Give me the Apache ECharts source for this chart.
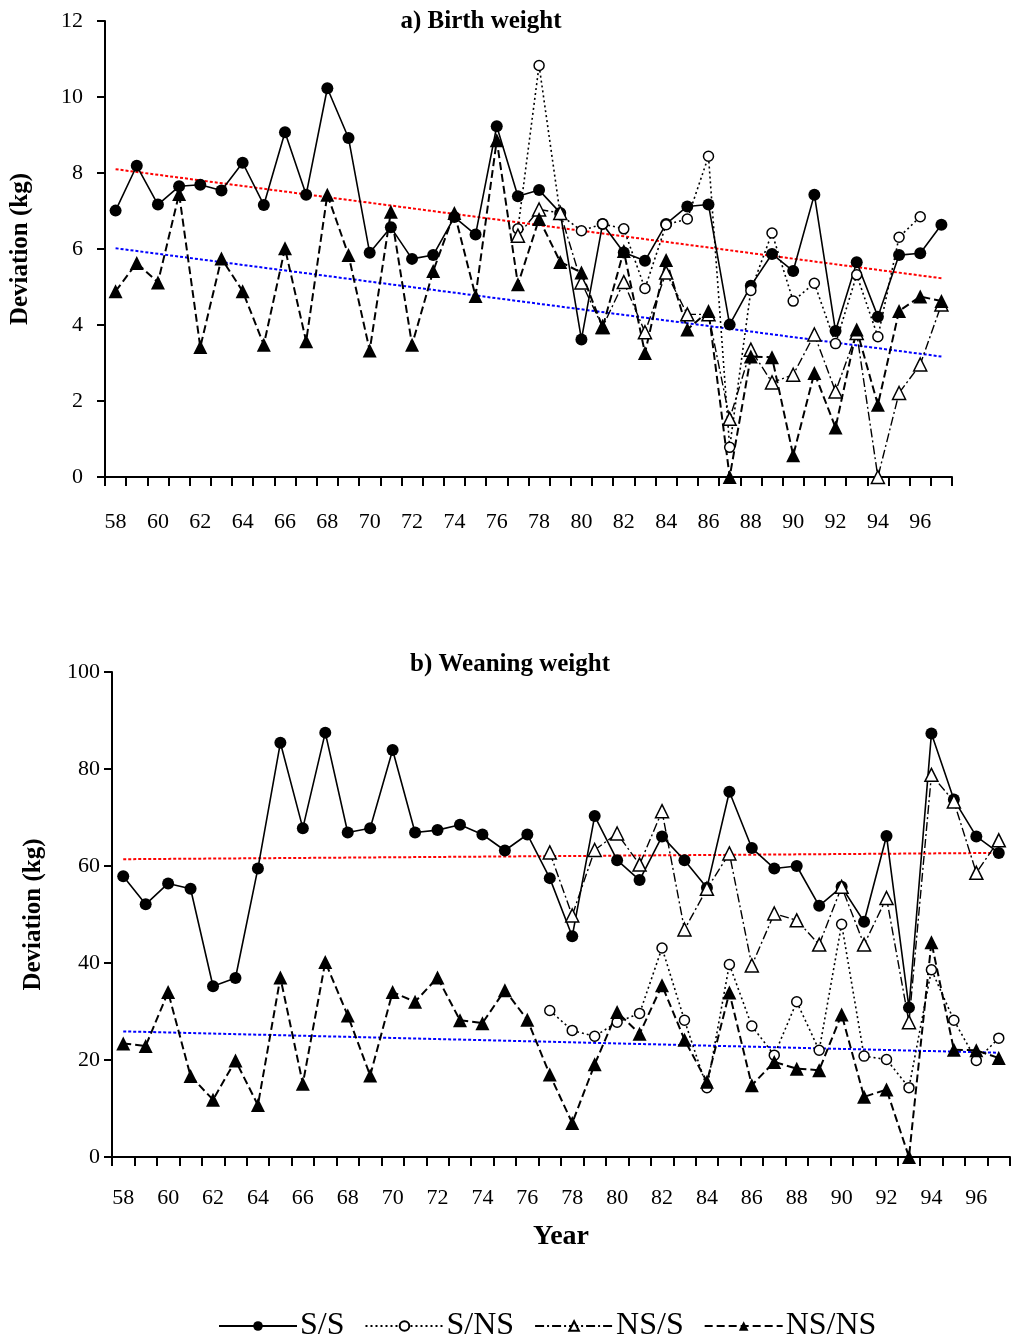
<!DOCTYPE html>
<html>
<head>
<meta charset="utf-8">
<script src="https://cdn.jsdelivr.net/npm/echarts@6/dist/echarts.min.js"></script>
<style>
  html, body { margin: 0; padding: 0; background: #fff; }
  #chart { width: 1012px; height: 1339px; }
</style>
</head>
<body>
<div id="chart"></div>
<script>
// Year of birth (19xx), one category per year
const years = ['58','59','60','61','62','63','64','65','66','67','68','69','70','71','72','73','74','75','76','77',
               '78','79','80','81','82','83','84','85','86','87','88','89','90','91','92','93','94','95','96','97'];

const seriesNames = ['S/S', 'S/NS', 'NS/S', 'NS/NS'];

// a) Birth weight deviations (kg)
const birthSS = [7.01, 8.19, 7.17, 7.65, 7.69, 7.54, 8.27, 7.16, 9.07, 7.43, 10.23, 8.92, 5.90, 6.57, 5.74, 5.84, 6.84, 6.38, 9.23,
                 7.39, 7.55, 6.95, 3.62, 6.66, 5.91, 5.69, 6.66, 7.12, 7.17, 4.01, 5.03, 5.87, 5.42, 7.43, 3.84, 5.65, 4.22, 5.84, 5.89, 6.64];
const birthSNS = [null, null, null, null, null, null, null, null, null, null, null, null, null, null, null, null, null, null, null,
                  6.53, 10.83, 6.90, 6.48, 6.66, 6.53, 4.96, 6.64, 6.79, 8.44, 0.78, 4.91, 6.42, 4.63, 5.10, 3.51, 5.32, 3.69, 6.31, 6.85, null];
const birthNSS = [null, null, null, null, null, null, null, null, null, null, null, null, null, null, null, null, null, null, null,
                  6.35, 7.04, 6.95, 5.12, 3.95, 5.13, 3.81, 5.38, 4.28, 4.28, 1.53, 3.35, 2.49, 2.69, 3.75, 2.25, 3.79, 0.0, 2.21, 2.96, 4.54];
const birthNSNS = [4.89, 5.63, 5.12, 7.45, 3.42, 5.75, 4.89, 3.48, 6.02, 3.57, 7.43, 5.84, 3.33, 6.98, 3.48, 5.42, 6.95, 4.76, 8.86,
                   5.07, 6.79, 5.66, 5.38, 3.94, 5.95, 3.26, 5.71, 3.88, 4.37, 0.0, 3.17, 3.15, 0.57, 2.74, 1.30, 3.88, 1.90, 4.37, 4.75, 4.63];
// linear trends: value at first and last year
const birthTrendRed = [8.10, 5.23];
const birthTrendBlue = [6.02, 3.17];

// b) Weaning weight deviations (kg)
const weanSS = [57.9, 52.1, 56.4, 55.3, 35.2, 36.9, 59.5, 85.4, 67.8, 87.5, 66.9, 67.8, 83.9, 66.9, 67.4, 68.5, 66.5, 63.2, 66.5,
                57.5, 45.5, 70.3, 61.2, 57.1, 66.1, 61.2, 55.5, 75.3, 63.7, 59.5, 60.0, 51.8, 55.7, 48.5, 66.2, 30.8, 87.3, 73.7, 66.1, 62.7];
const weanSNS = [null, null, null, null, null, null, null, null, null, null, null, null, null, null, null, null, null, null, null,
                 30.2, 26.1, 24.9, 27.8, 29.6, 43.1, 28.2, 14.3, 39.7, 27.0, 21.0, 32.0, 22.0, 48.0, 20.8, 20.1, 14.3, 38.6, 28.2, 19.9, 24.5];
const weanNSS = [null, null, null, null, null, null, null, null, null, null, null, null, null, null, null, null, null, null, null,
                 62.8, 49.8, 63.3, 66.7, 60.3, 71.3, 46.9, 55.3, 62.6, 39.5, 50.2, 48.8, 43.8, 55.7, 43.8, 53.4, 27.8, 78.8, 73.3, 58.6, 65.3];
const weanNSNS = [23.4, 22.9, 34.0, 16.7, 11.8, 19.9, 10.7, 37.0, 15.1, 40.2, 29.2, 16.8, 34.0, 32.0, 37.0, 28.2, 27.6, 34.4, 28.3,
                  17.0, 7.0, 19.1, 29.9, 25.4, 35.4, 24.2, 15.5, 33.9, 14.8, 19.6, 18.2, 17.9, 29.4, 12.4, 13.9, 0.0, 44.3, 22.1, 22.0, 20.4];
const weanTrendRed = [61.4, 62.7];
const weanTrendBlue = [25.9, 21.5];

const FONT = 'Liberation Serif';

// a straight trend segment: endpoints only, joined across the empty years
function trendData(ends) {
  return years.map((y, i) => i === 0 ? ends[0] : (i === years.length - 1 ? ends[1] : null));
}

const styles = {
  'S/S':   { symbol: 'circle', symbolSize: 12, fill: '#000', line: { type: 'solid', width: 1.6 } },
  'S/NS':  { symbol: 'circle', symbolSize: 10, fill: '#fff', line: { type: [2, 3], width: 1.6 } },
  'NS/S':  { symbol: 'triangle', symbolSize: 13, fill: '#fff', line: { type: [9, 3, 2, 3], width: 1.4 } },
  'NS/NS': { symbol: 'triangle', symbolSize: 14, fill: '#000', line: { type: [8, 4], width: 2 } }
};

function lineSeries(name, data, idx) {
  const s = styles[name];
  return {
    name: name, type: 'line', xAxisIndex: idx, yAxisIndex: idx, data: data,
    symbol: s.symbol, symbolSize: s.symbolSize, showAllSymbol: true,
    connectNulls: false, animation: false, z: 3,
    lineStyle: { color: '#000', width: s.line.width, type: s.line.type },
    itemStyle: { color: s.fill, borderColor: '#000', borderWidth: s.fill === '#fff' ? 1.5 : 0 },
    emphasis: { disabled: true }
  };
}

function trendSeries(name, ends, color, idx) {
  return {
    name: name, type: 'line', xAxisIndex: idx, yAxisIndex: idx, data: trendData(ends),
    symbol: 'none', connectNulls: true, animation: false, z: 2, silent: true,
    lineStyle: { color: color, width: 2, type: [3, 2] }
  };
}

const axisLine = { show: true, lineStyle: { color: '#000', width: 2 } };

function xAxis(idx, labelMargin, withName) {
  const ax = {
    type: 'category', gridIndex: idx, data: years, boundaryGap: true,
    axisLine: axisLine,
    axisTick: { show: true, interval: 0, length: 9, inside: false, lineStyle: { color: '#000', width: 2 } },
    axisLabel: { interval: 1, margin: labelMargin, color: '#000', fontFamily: FONT, fontSize: 22 },
    splitLine: { show: false }
  };
  if (withName) {
    ax.name = 'Year';
    ax.nameLocation = 'middle';
    ax.nameGap = 66;
    ax.nameTextStyle = { fontFamily: FONT, fontWeight: 'bold', fontSize: 28, color: '#000' };
  }
  return ax;
}

function yAxis(idx, max, interval, labelMargin, nameGap) {
  return {
    type: 'value', gridIndex: idx, min: 0, max: max, interval: interval,
    name: 'Deviation (kg)', nameLocation: 'middle', nameRotate: 90, nameGap: nameGap,
    nameTextStyle: { fontFamily: FONT, fontWeight: 'bold', fontSize: 25, color: '#000' },
    axisLine: axisLine,
    axisTick: { show: true, length: 8, lineStyle: { color: '#000', width: 2 } },
    axisLabel: { margin: labelMargin, color: '#000', fontFamily: FONT, fontSize: 22 },
    splitLine: { show: false }
  };
}

const chart = echarts.init(document.getElementById('chart'), null, { renderer: 'canvas' });

chart.setOption({
  backgroundColor: '#fff',
  animation: false,
  title: [
    { text: 'a) Birth weight', left: 481, top: 9, textAlign: 'center', padding: 0,
      textStyle: { fontFamily: FONT, fontWeight: 'bold', fontSize: 25, color: '#000' } },
    { text: 'b) Weaning weight', left: 510, top: 652, textAlign: 'center', padding: 0,
      textStyle: { fontFamily: FONT, fontWeight: 'bold', fontSize: 25, color: '#000' } }
  ],
  grid: [
    { left: 102, top: 21, width: 850, height: 456 },
    { left: 112, top: 672, width: 898, height: 485 }
  ],
  xAxis: [xAxis(0, 34, false), xAxis(1, 30, true)],
  yAxis: [yAxis(0, 12, 2, 22, 72), yAxis(1, 100, 20, 12, 66)],
  legend: {
    data: seriesNames,
    left: 213, top: 1305,
    itemWidth: 78, itemHeight: 12, itemGap: 20,
    textStyle: { fontFamily: FONT, fontSize: 32, color: '#000', padding: [0, 0, 0, -2] },
    selectedMode: false
  },
  series: [
    trendSeries('trend-a-red', birthTrendRed, '#ff0000', 0),
    trendSeries('trend-a-blue', birthTrendBlue, '#0000ff', 0),
    lineSeries('S/S', birthSS, 0),
    lineSeries('S/NS', birthSNS, 0),
    lineSeries('NS/S', birthNSS, 0),
    lineSeries('NS/NS', birthNSNS, 0),
    trendSeries('trend-b-red', weanTrendRed, '#ff0000', 1),
    trendSeries('trend-b-blue', weanTrendBlue, '#0000ff', 1),
    lineSeries('S/S', weanSS, 1),
    lineSeries('S/NS', weanSNS, 1),
    lineSeries('NS/S', weanNSS, 1),
    lineSeries('NS/NS', weanNSNS, 1)
  ]
});
</script>
</body>
</html>
